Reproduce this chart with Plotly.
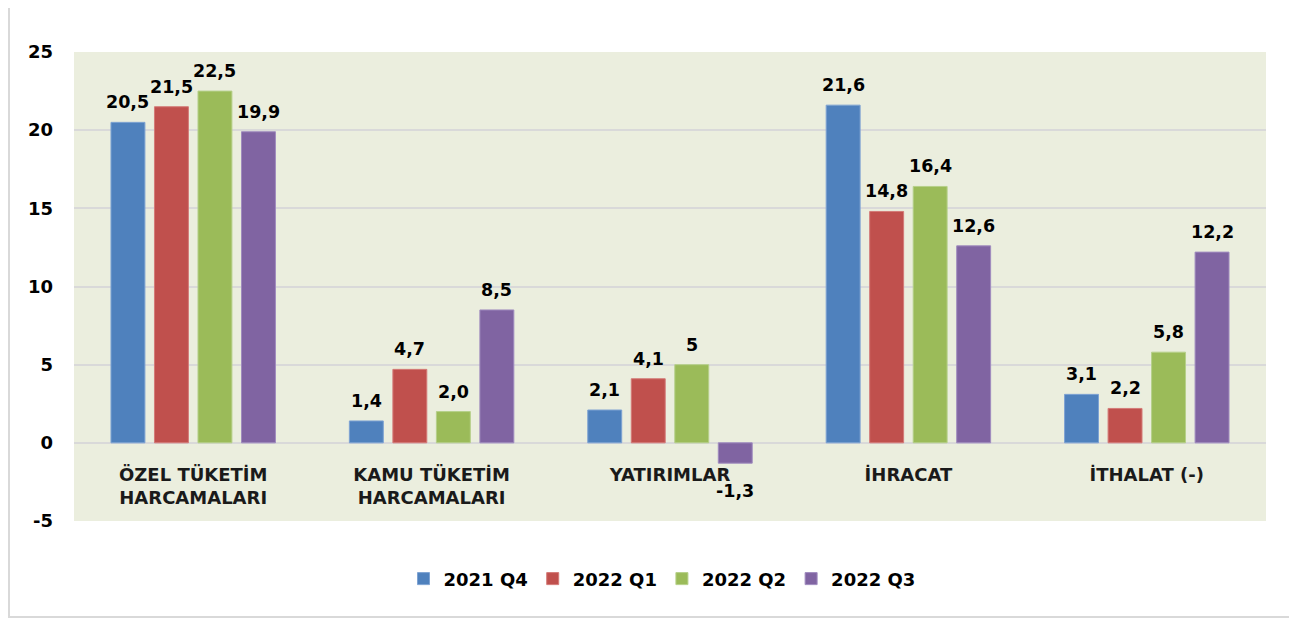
import plotly.graph_objects as go

categories = ["ÖZEL TÜKETİM<br>HARCAMALARI", "KAMU TÜKETİM<br>HARCAMALARI", "YATIRIMLAR", "İHRACAT", "İTHALAT (-)"]
series_names = ["2021 Q4", "2022 Q1", "2022 Q2", "2022 Q3"]
q4_2021 = [20.5, 1.4, 2.1, 21.6, 3.1]
q1_2022 = [21.5, 4.7, 4.1, 14.8, 2.2]
q2_2022 = [22.5, 2.0, 5.0, 16.4, 5.8]
q3_2022 = [19.9, 8.5, -1.3, 12.6, 12.2]
labels_q4_2021 = ["20,5", "1,4", "2,1", "21,6", "3,1"]
labels_q1_2022 = ["21,5", "4,7", "4,1", "14,8", "2,2"]
labels_q2_2022 = ["22,5", "2,0", "5", "16,4", "5,8"]
labels_q3_2022 = ["19,9", "8,5", "-1,3", "12,6", "12,2"]
y_ticks = [-5, 0, 5, 10, 15, 20, 25]

colors = ["#4F81BD", "#C0504D", "#9BBB59", "#8064A2"]
edge = ["#7EA3D3", "#D47B78", "#B6D08A", "#A08CBF"]
values = [q4_2021, q1_2022, q2_2022, q3_2022]
texts = [labels_q4_2021, labels_q1_2022, labels_q2_2022, labels_q3_2022]

FONT = "'DejaVu Sans', sans-serif"
FS = 18
FS_LABEL = 17.5
W, H = 1289, 610
ML, MR, MT, MB = 66, 31, 44, 97
BARGAP, GROUPGAP = 0.27, 0.22

fig = go.Figure()
for name, vals, c, e in zip(series_names, values, colors, edge):
    fig.add_trace(go.Bar(
        x=categories, y=vals, name=name,
        marker=dict(color=c, line=dict(color=e, width=1)),
    ))

# data labels as annotations placed on each bar's value
plot_w = W - ML - MR
slot = plot_w / len(categories) * (1 - BARGAP) / len(series_names)
for i, (vals, txt) in enumerate(zip(values, texts)):
    dx = (i - (len(series_names) - 1) / 2) * slot
    for cat, v, t in zip(categories, vals, txt):
        fig.add_annotation(
            x=cat, y=v, text=t, showarrow=False, xshift=dx,
            yanchor="bottom" if v >= 0 else "top",
            yshift=8 if v >= 0 else -16,
            font=dict(family=FONT, size=FS_LABEL, color="#000000", weight="bold"),
        )

fig.update_layout(
    width=W, height=H,
    margin=dict(l=ML, r=MR, t=MT, b=MB, autoexpand=False),
    paper_bgcolor="#FFFFFF", plot_bgcolor="#EBEEDE",
    barmode="group", bargap=BARGAP, bargroupgap=GROUPGAP,
    font=dict(family=FONT, size=FS, color="#000000", weight="bold"),
    showlegend=True,
    legend=dict(orientation="h", x=0.4933, xanchor="center", y=-0.1235, yanchor="middle",
                font=dict(family=FONT, size=FS, color="#000000", weight="bold"),
                itemwidth=30, traceorder="normal"),
)
fig.update_xaxes(
    anchor="free", position=0.1663, showgrid=False, zeroline=False, showline=False,
    ticks="", tickfont=dict(family=FONT, size=FS, color="#1a1a1a", weight="bold"),
    ticklabelstandoff=19,
)
fig.update_yaxes(
    range=[-5, 25], tickvals=y_ticks, ticktext=[str(v) for v in y_ticks],
    showgrid=True, gridcolor="#D9D9D9", gridwidth=2,
    zeroline=True, zerolinecolor="#D9D9D9", zerolinewidth=2,
    showline=False, ticks="", ticklabelstandoff=20,
    tickfont=dict(family=FONT, size=FS, color="#000000", weight="bold"),
)
# outer chart border (left edge sits at the figure's left edge)
fig.add_shape(type="rect", xref="paper", yref="paper",
              x0=(1 - ML) / plot_w, x1=(W - 4 - ML) / plot_w, y0=-0.2047, y1=1.3,
              line=dict(color="#D9D9D9", width=2), fillcolor="rgba(0,0,0,0)", layer="below")

fig.write_html("out.html")
